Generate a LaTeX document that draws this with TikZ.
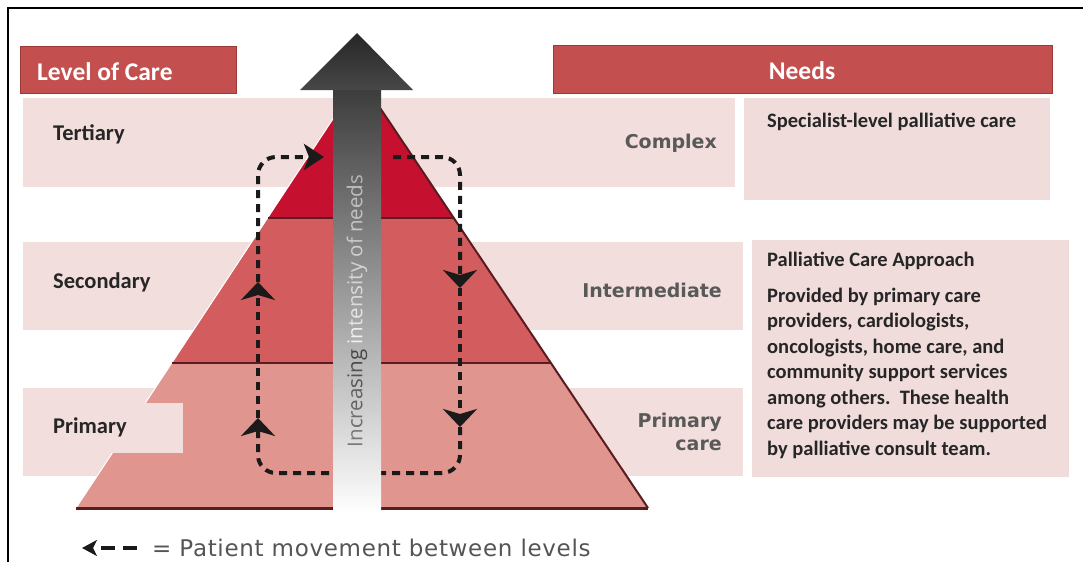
\documentclass[tikz,border=0pt]{standalone}
\usepackage{fontspec}
\setmainfont{Carlito}
\newfontfamily\needfont{DejaVu Sans}
\newfontfamily\legfont{DejaVu Sans}[LetterSpace=3]
\newfontfamily\shaftfont{Open Sans}
\usetikzlibrary{arrows.meta}

\definecolor{hdr}{HTML}{C3504E}
\definecolor{hdredge}{HTML}{9A3A38}
\definecolor{band}{HTML}{F2DEDC}
\definecolor{needbox}{HTML}{F1DCDC}
\definecolor{tiertop}{HTML}{C5102F}
\definecolor{tiermid}{HTML}{D25C5E}
\definecolor{tierlow}{HTML}{E0958F}
\definecolor{tierline}{HTML}{5A1C20}
\definecolor{lvltext}{HTML}{262626}
\definecolor{needtext}{HTML}{595959}
\definecolor{loopcol}{HTML}{1A1A1A}
\definecolor{legtext}{HTML}{555555}
\definecolor{shafttop}{HTML}{3C3C3C}
\definecolor{shaftmid}{HTML}{7E8384}

\tikzset{
  hdrbar/.style={fill=hdr, draw=hdredge, line width=1pt},
  hdrtext/.style={inner sep=0pt, text=white, font=\bfseries\fontsize{25.5}{25.5}\selectfont},
  lvl/.style={anchor=base west, inner sep=0pt, text=lvltext, font=\bfseries\fontsize{22.5}{22.5}\selectfont},
  needlbl/.style={anchor=base east, inner sep=0pt, text=needtext, font=\needfont\bfseries\fontsize{19}{19}\selectfont},
  boxtext/.style={anchor=base west, inner sep=0pt, text=lvltext, font=\bfseries\fontsize{20.5}{20.5}\selectfont},
  loopline/.style={draw=loopcol, line width=4pt, dash pattern=on 8pt off 6pt, rounded corners=18pt},
  bighead/.style={-{Stealth[length=18pt, width=34pt, inset=5pt]}},
  sidehead/.style={-{Stealth[length=20pt, width=26pt, inset=5pt]}},
  shafttxt/.style={inner sep=0pt, rotate=90, font=\shaftfont\fontsize{20.5}{20.5}\selectfont},
}

\begin{document}
\begin{tikzpicture}[x=1pt, y=-1pt]
\useasboundingbox (0,0) rectangle (1083,562);
\fill[white] (0,0) rectangle (1083,562);

% outer frame (top and left edges)
\draw[line width=2pt] (8,562) -- (8,8) -- (1083,8);

% light row bands behind the pyramid
\fill[band] (23,98) rectangle (735,187);
\fill[band] (23,242) rectangle (743,330);
\fill[band] (23,388) rectangle (743,476);

% needs boxes
\fill[needbox] (744,98) rectangle (1050,200);
\fill[needbox] (752,240) rectangle (1069,477);

% header bars
\draw[hdrbar] (20,46) rectangle (236,93);
\draw[hdrbar] (553,45) rectangle (1052,93);
\node[hdrtext, anchor=base west] (lochdr) at (37,80) {Level of Care};
\node[hdrtext, anchor=base] (needshdr) at (802,79) {Needs};

% pyramid
\coordinate (apex) at (360,78);
\coordinate (tl) at (268,218);
\coordinate (tr) at (454,218);
\coordinate (ml) at (172,363);
\coordinate (mr) at (551,363);
\coordinate (bl) at (76,508);
\coordinate (br) at (648,508);
\fill[tierlow] (ml) -- (mr) -- (br) -- (bl) -- cycle;
\fill[tiermid] (tl) -- (tr) -- (mr) -- (ml) -- cycle;
\fill[tiertop] (apex) -- (tr) -- (tl) -- cycle;
\draw[white, line width=1pt] (apex) -- (bl);
\draw[tierline, line width=1.5pt] (tl) -- (tr);
\draw[tierline, line width=2pt] (ml) -- (mr);
\draw[tierline, line width=2pt] (apex) -- (br);
\draw[tierline, line width=3pt] (bl) -- (br);

% label box in front of the lowest tier
\fill[band] (23,403) rectangle (183,453);

% patient movement loop
\coordinate (LB) at (258,473);
\coordinate (RB) at (460,473);
\coordinate (LT) at (258,157);
\coordinate (RT) at (460,157);
\coordinate (botmid) at (357,473);
\coordinate (lup1) at (258,418);
\coordinate (lup2) at (258,282);
\coordinate (topin) at (324,157);
\coordinate (topout) at (393,157);
\coordinate (rdn1) at (460,288);
\coordinate (rdn2) at (460,427);
\draw[loopline, bighead] (botmid) -- (LB) -- (lup1);
\draw[loopline, bighead] (lup1) -- (lup2);
\draw[loopline, sidehead] (lup2) -- (LT) -- (topin);
\draw[loopline, bighead] (topout) -- (RT) -- (rdn1);
\draw[loopline, bighead] (rdn1) -- (rdn2);
\draw[loopline] (rdn2) -- (RB) -- (botmid);

% rising arrow
\shade[top color=shafttop, middle color=shaftmid, bottom color=white] (333,88) rectangle (381,514);
\shade[top color=black!85, bottom color=black!72] (300,90) -- (357,33) -- (413,90) -- cycle;
% shaft caption: light on the dark part, dark on the light part
\foreach \i/\tone in {0/71,1/74,2/76,3/79,4/81,5/84,6/86,7/90,8/94,9/27,10/33,11/38,12/43,13/47,14/51} {
  \begin{scope}
    \clip (330,{166+\i*20}) rectangle (386,{186+\i*20});
    \node[shafttxt, text=white!\tone!black] (shaftlabel\i) at (357,311) {Increasing intensity of needs};
  \end{scope}
}

% level labels
\node[lvl] (tertiary) at (53,140) {Tertiary};
\node[lvl] (secondary) at (53,288) {Secondary};
\node[lvl] (primary) at (53,433) {Primary};

% needs labels
\node[needlbl] (complex) at (717,148) {Complex};
\node[needlbl] (intermediate) at (722,297) {Intermediate};
\node[needlbl] (primcare1) at (722,427) {Primary};
\node[needlbl] (primcare2) at (722,450) {care};

% needs descriptions
\node[boxtext] (specialist) at (767,127) {Specialist-level palliative care};
\node[boxtext] (approach) at (767,266) {Palliative Care Approach};
\foreach \txt [count=\k] in {{Provided by primary care},{providers, cardiologists,},{oncologists, home care, and},{community support services},{among others.\ \ These health},{care providers may be supported},{by palliative consult team.}} {
  \node[boxtext] (body\k) at (767,{302+(\k-1)*25.5}) {\txt};
}

% legend
\coordinate (legtip) at (82,548);
\coordinate (legstart) at (137,548);
\draw[draw=loopcol, line width=4pt, dash pattern=on 14pt off 8pt, -{Stealth[length=15pt, width=16pt, inset=4pt]}] (legstart) -- (legtip);
\node[anchor=base west, inner sep=0pt, text=legtext, font=\legfont\fontsize{23}{23}\selectfont] (legend) at (152,556) {= Patient movement between levels};
\end{tikzpicture}
\end{document}
